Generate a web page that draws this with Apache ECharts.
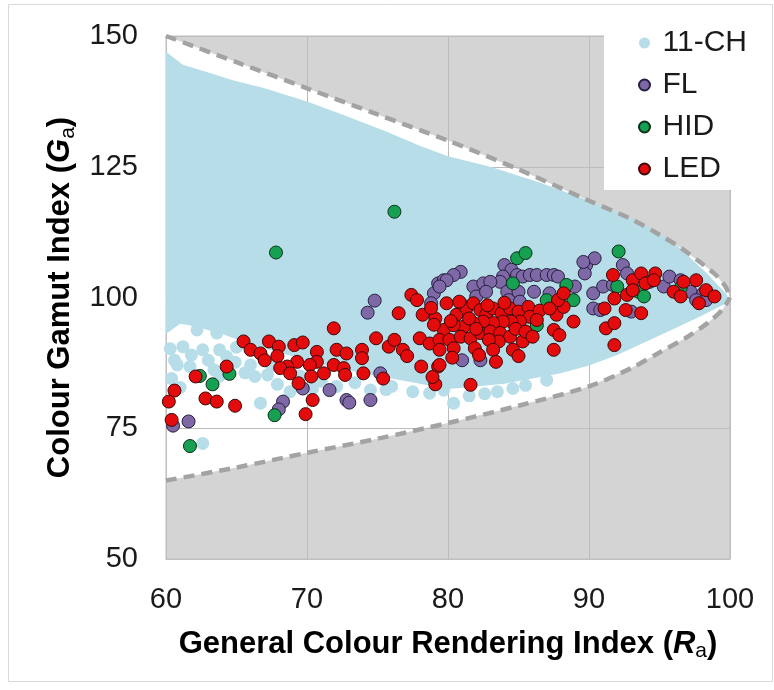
<!DOCTYPE html>
<html>
<head>
<meta charset="utf-8">
<script src="https://cdn.jsdelivr.net/npm/echarts@6/dist/echarts.min.js"></script>
<style>
html,body{margin:0;padding:0;background:#fff;}
#chart{width:774px;height:690px;}
</style>
</head>
<body>
<div id="chart"></div>
<script>
var xTicks = [60, 70, 80, 90, 100];
var yTicks = [50, 75, 100, 125, 150];
var seriesNames = ['11-CH', 'FL', 'HID', 'LED'];

// gamut limits (dashed lines)
var boundUpper = [[60,150],[65,145],[70,140],[75,135],[80,130],[85,124.5],[90,118.5],[93,115],[95,112],[96.5,109.5],[98,106.5],[99,104.3],[99.7,102],[100,100]];
var boundLower = [[60,65],[65,67.5],[70,70.3],[75,73],[80,76],[85,79.3],[90,83],[93,86.5],[95,89.5],[97,92.5],[98.5,95.3],[99.5,97.8],[100,100]];

// 11-CH cloud: outline of the dense part + loose dots at its edge
var chOutline = [[60,147],[61.2,144.5],[63,143],[64.8,141.5],[67,140],[70,137.5],[72.5,135],[75.4,132],[78,129],[80,127],[83,125],[86.5,122],[90,118.5],[93.6,114.5],[96,110.5],[98.3,104.8],[99.8,100.5],[99.8,99],[98,96.5],[96,94],[94,91.5],[92,89],[90,87],[88,85.5],[86,84.5],[84,83.5],[82,83],[80,82.5],[78,83.5],[76,84.5],[74,85.5],[72,86.5],[70,88],[68,89.5],[66,91],[64,93],[62,94.5],[61,95],[60,93]];
var chDots = [[61.2,90.6],[60.8,87.1],[61.7,86.8],[63.0,88.0],[62.6,90.0],[63.8,90.0],[64.3,88.7],[66.3,84.9],[66.7,79.8],[66.0,87.1],[68.8,82.0],[62.6,72.1],[60.6,88.0],[62.2,93.8],[63.6,93.2],[66.4,93.2],[72.1,83.0],[74.5,82.3],[78.7,81.7],[80.4,79.8],[79.7,82.3],[60.4,84.5],[61.0,82.8],[65.0,90.5],[67.5,87.0],[69.5,85.0],[71.0,84.0],[76.0,83.0],[77.5,82.0],[81.5,81.2],[83.5,82.0],[85.5,83.2],
  [60.3,90.2],[61.8,89.0],[63.4,86.2],[64.9,87.6],[63.8,85.0],[65.6,85.6],[67.2,85.2],[67.9,83.4],[70.4,82.6],[73.4,83.7],[75.6,82.4],[82.6,81.6],[84.6,82.6],[87.0,84.2]];

var flData = [[74.8,99.4],[74.3,97.1],[79.3,102.7],[79.0,100.8],[79.7,103.3],[78.8,98.9],[75.2,85.5],[69.7,82.6],[71.6,82.3],[72.8,80.4],[73.0,79.9],[74.5,80.4],[68.3,80.1],[68.0,78.6],[61.6,76.3],[60.5,75.5],
  [80.9,104.9],[80.4,104.3],[79.9,103.3],[79.4,102.1],[84.0,106.2],[84.5,105.3],[83.9,104.0],[83.7,103.0],[84.9,104.3],[85.3,104.0],[85.8,104.3],[86.3,104.3],[87.0,104.3],[87.5,104.3],[87.8,104.0],
  [81.8,102.1],[82.5,102.7],[83.0,103.0],[82.0,100.2],[82.7,101.1],[84.2,101.1],[85.0,101.1],[84.3,99.5],[85.1,99.2],[86.1,101.1],[87.2,100.8],[88.4,102.1],[89.0,102.1],[80.9,98.9],
  [89.8,106.2],[90.4,107.5],[89.7,104.6],[92.4,106.2],[92.7,104.6],[90.3,100.8],[91.0,102.1],[91.7,102.4],[90.3,97.9],[90.8,97.6],
  [94.3,103.0],[95.3,102.1],[95.7,104.0],[96.5,103.3],[97.2,101.1],[98.1,100.8],[98.3,99.5],[97.6,99.5],[81.0,88.0],[82.3,88.0],[93.0,97.3],[89.6,106.8]];

var hidData = [[67.8,108.6],[76.2,116.4],[62.4,85.0],[63.3,83.4],[64.5,85.4],[67.7,77.5],[61.7,71.6],
  [84.9,107.5],[85.5,108.5],[84.6,102.7],[88.4,102.4],[88.9,99.5],[87.0,99.5],[86.3,94.7],[92.1,108.8],[92.0,102.1],[93.5,101.1],[93.9,100.2],[96.5,101.8]];

var ledData = [[71.9,94.1],[76.5,97.0],[77.4,100.5],[77.8,99.5],[78.2,96.7],[79.1,96.0],[79.7,93.8],[74.9,92.2],[75.8,90.6],[76.2,91.9],[76.8,90.0],[77.1,88.8],[78.0,92.2],[78.7,91.2],[79.4,91.9],[79.4,90.0],[78.1,86.8],[79.3,86.8],[79.1,83.4],
  [65.5,91.6],[66.0,90.0],[66.7,89.3],[67.3,91.6],[68.0,90.6],[67.9,88.8],[67.0,88.0],
  [69.1,90.9],[69.7,91.4],[70.7,89.6],[70.7,87.7],[69.3,87.7],[68.6,86.8],[68.1,86.5],
  [68.8,85.5],[69.4,83.6],[70.2,87.1],[70.3,84.9],[71.2,85.5],[71.9,87.1],[72.6,86.5],[72.7,85.2],[72.1,90.0],[72.8,89.3],[73.9,90.0],[73.9,88.4],[74.0,85.5],
  [70.4,80.4],[69.9,77.7],[64.9,79.3],[64.3,86.8],[62.8,80.7],[63.6,80.1],[60.6,82.2],[60.2,80.1],[60.4,76.6],[75.4,84.5],[62.1,84.9],
  [79.9,98.9],[80.6,96.7],[81.3,97.9],[81.8,98.9],[82.3,97.6],[82.7,96.7],[83.2,97.9],[83.8,97.0],[84.4,97.9],[85.0,97.3],[85.7,98.2],[85.8,96.3],[85.1,95.4],[84.5,95.4],[83.9,95.4],[83.2,95.1],[82.5,95.4],[81.8,95.1],[81.1,94.4],[80.4,94.7],
  [80.1,91.9],[80.9,92.5],[81.6,92.2],[82.3,93.2],[83.0,93.5],[83.7,93.2],[84.4,92.5],[85.3,91.6],[83.6,91.6],[82.9,91.9],[81.9,90.3],[80.4,90.3],[83.2,90.0],[83.4,87.7],[79.4,87.1],[81.6,83.3],
  [80.2,95.5],[81.5,96.0],[82.0,94.0],[82.8,98.5],[84.0,99.0],[84.8,94.0],[85.5,93.5],[86.0,92.5],[86.5,97.5],[80.8,99.2],[79.0,94.8],[78.8,98.0],[80.3,88.5],[82.2,89.0],[84.6,90.0],[85.0,88.8],[78.9,84.8],
  [87.5,90.0],[87.5,93.8],[87.9,92.8],[88.9,95.4],[87.7,96.7],[88.2,98.2],[87.8,99.5],[88.2,100.8],[87.2,97.9],[86.3,95.7],
  [91.1,97.9],[91.8,99.8],[92.7,100.5],[92.6,97.6],[93.7,97.0],[91.2,94.1],[91.8,95.1],[91.8,90.9],[91.7,104.3],
  [93.1,103.3],[93.7,104.6],[94.7,104.6],[94.0,102.7],[94.6,103.3],[93.1,101.4],
  [96.0,101.1],[96.7,103.0],[97.6,103.3],[98.3,101.4],[98.9,100.2],[97.8,98.9],[96.5,100.2]];

var FONT = "'Liberation Sans', Arial, sans-serif";

var chart = echarts.init(document.getElementById('chart'));

// polygon drawn through the axes
function polygonRenderer(points, fill) {
  return function (params, api) {
    var pts = points.map(function (p) { return api.coord(p); });
    return {type: 'polygon', shape: {points: pts}, style: {fill: fill}, silent: true};
  };
}

function dotSeries(name, data, color, border, z) {
  return {
    name: name, type: 'scatter', data: data, z: z,
    symbol: 'circle', symbolSize: 13,
    itemStyle: {color: color, borderColor: border, borderWidth: border ? 1 : 0, opacity: 1}
  };
}

var titleRich = {
  b: {fontFamily: FONT, fontSize: 31, fontWeight: 'bold', color: '#000', lineHeight: 36},
  i: {fontFamily: FONT, fontSize: 31, fontWeight: 'bold', fontStyle: 'italic', color: '#000', lineHeight: 36},
  s: {fontFamily: FONT, fontSize: 21, color: '#000', lineHeight: 22, verticalAlign: 'bottom'}
};

chart.setOption({
  animation: false,
  backgroundColor: '#fff',
  // chart area frame
  graphic: [{
    type: 'rect', left: 6, top: 2, z: 0, silent: true,
    shape: {width: 764, height: 677},
    style: {fill: null, stroke: '#d9d9d9', lineWidth: 1}
  }],
  grid: {left: 166, right: 44, top: 36, bottom: 131, show: true, backgroundColor: '#d4d4d4', borderColor: '#bfbfbf', borderWidth: 1, outerBoundsMode: 'none'},
  legend: {
    data: seriesNames, orient: 'vertical', left: 604, top: 22, z: 10,
    backgroundColor: '#fff', padding: [5, 6, 5, 34],
    itemWidth: 26, itemHeight: 11, itemGap: 10, icon: 'circle',
    textStyle: {fontFamily: FONT, fontSize: 30, color: '#1a1a1a', lineHeight: 32}
  },
  xAxis: {
    type: 'value', z: 2,
    min: xTicks[0], max: xTicks[xTicks.length - 1], interval: xTicks[1] - xTicks[0],
    axisLine: {show: true, lineStyle: {color: '#bfbfbf'}},
    axisTick: {show: false},
    splitLine: {show: true, lineStyle: {color: '#bcbcbc', width: 1}},
    axisLabel: {fontFamily: FONT, fontSize: 29, color: '#1a1a1a', margin: 26},
    name: '{b|General Colour Rendering Index (}{i|R}{s|a}{b|)}',
    nameLocation: 'middle', nameGap: 67,
    nameTextStyle: {rich: titleRich}
  },
  yAxis: {
    type: 'value', z: 2,
    min: yTicks[0], max: yTicks[yTicks.length - 1], interval: yTicks[1] - yTicks[0],
    axisLine: {show: true, lineStyle: {color: '#bfbfbf'}},
    axisTick: {show: false},
    splitLine: {show: true, lineStyle: {color: '#bcbcbc', width: 1}},
    axisLabel: {fontFamily: FONT, fontSize: 29, color: '#1a1a1a', margin: 28},
    name: '{b|Colour Gamut Index (}{i|G}{s|a}{b|)}',
    nameLocation: 'middle', nameGap: 84, nameRotate: 90,
    nameTextStyle: {rich: titleRich}
  },
  series: [
    {
      name: 'gamut-area', type: 'custom', z: 1, silent: true,
      data: [[xTicks[0], yTicks[0]]],
      renderItem: polygonRenderer(boundUpper.concat(boundLower.slice().reverse()), '#ffffff')
    },
    {
      name: '11-CH-area', type: 'custom', z: 3, silent: true,
      data: [[xTicks[0], yTicks[0]]],
      renderItem: polygonRenderer(chOutline, '#b7dee8')
    },
    dotSeries('11-CH', chDots, '#b7dee8', null, 3),
    {
      name: 'upper-limit', type: 'line', data: boundUpper, z: 3, smooth: 0.3,
      showSymbol: false, silent: true,
      lineStyle: {color: '#a3a3a3', width: 4.5, type: [11, 7]}
    },
    {
      name: 'lower-limit', type: 'line', data: boundLower, z: 3, smooth: 0.3,
      showSymbol: false, silent: true,
      lineStyle: {color: '#a3a3a3', width: 4.5, type: [11, 7]}
    },
    dotSeries('FL', flData, '#7f68a6', '#262040', 4),
    dotSeries('HID', hidData, '#16a052', '#0d2e1a', 5),
    dotSeries('LED', ledData, '#e30b0b', '#3d0808', 6)
  ]
});
</script>
</body>
</html>
